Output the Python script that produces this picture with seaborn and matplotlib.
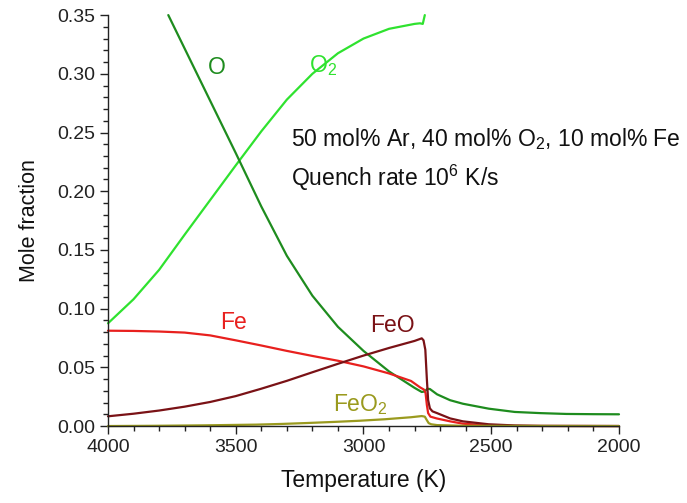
import matplotlib
matplotlib.use("Agg")
import matplotlib.pyplot as plt
from matplotlib.ticker import MultipleLocator, FormatStrFormatter
import seaborn as sns
import pandas as pd

# ---- data ----
T_O2 = [4000, 3900, 3800, 3700, 3600, 3500, 3400, 3300, 3200, 3100, 3000, 2900, 2800, 2779, 2768, 2760]
O2 = [0.0875, 0.108, 0.133, 0.163, 0.1925, 0.222, 0.251, 0.278, 0.300, 0.3175, 0.330, 0.3383, 0.3425, 0.343, 0.3425, 0.350]

T_O = [3764, 3700, 3600, 3500, 3400, 3300, 3200, 3100, 3000, 2900, 2800, 2772, 2760, 2750, 2740,
       2712, 2661, 2611, 2510, 2408, 2307, 2206, 2100, 2000]
O = [0.350, 0.3215, 0.277, 0.2325, 0.187, 0.145, 0.111, 0.0845, 0.064, 0.0465, 0.0325, 0.029, 0.0295, 0.0318, 0.0315,
     0.027, 0.022, 0.019, 0.0148, 0.012, 0.011, 0.0103, 0.0101, 0.010]

T_Fe = [4000, 3900, 3800, 3700, 3600, 3500, 3400, 3300, 3200, 3100, 3000, 2900, 2814, 2779, 2763, 2757,
        2752, 2747, 2738, 2714, 2661, 2611, 2510, 2408, 2000]
Fe = [0.0812, 0.0810, 0.0805, 0.0796, 0.0772, 0.0730, 0.0686, 0.0640, 0.0597, 0.0556, 0.0508, 0.0448, 0.0384, 0.033, 0.031, 0.028,
      0.018, 0.011, 0.008, 0.0065, 0.004, 0.002, 0.0005, 0.0001, 0.0]

T_FeO = [4000, 3900, 3800, 3700, 3600, 3500, 3400, 3300, 3200, 3100, 3000, 2900, 2800, 2772, 2765, 2758,
         2752, 2747, 2740, 2730, 2712, 2661, 2611, 2510, 2408, 2307, 2000]
FeO = [0.0083, 0.0105, 0.0132, 0.0165, 0.0205, 0.0255, 0.0318, 0.0385, 0.0458, 0.0530, 0.0600, 0.0665, 0.0725, 0.0747, 0.073, 0.065,
       0.040, 0.022, 0.015, 0.0125, 0.011, 0.0065, 0.004, 0.0015, 0.0005, 0.0001, 0.0]

T_FeO2 = [4000, 3825, 3622, 3420, 3319, 3218, 3117, 3016, 2915, 2814, 2772, 2760, 2752, 2745, 2735, 2712, 2611, 2000]
FeO2 = [0.0, 0.0002, 0.0006, 0.0012, 0.0018, 0.0026, 0.0035, 0.0045, 0.0058, 0.0075, 0.0085, 0.0080, 0.0050, 0.0025,
        0.0015, 0.0008, 0.0002, 0.0]

series = [
    ("O$_2$", T_O2, O2, "#2fe22f"),
    ("O", T_O, O, "#1e8c1e"),
    ("Fe", T_Fe, Fe, "#e8201e"),
    ("FeO", T_FeO, FeO, "#7a1216"),
    ("FeO$_2$", T_FeO2, FeO2, "#9a9a1e"),
]

sns.set_style("ticks")
plt.rcParams["font.family"] = ["Liberation Sans", "DejaVu Sans"]
plt.rcParams["mathtext.fontset"] = "custom"
plt.rcParams["mathtext.rm"] = "Liberation Sans"

fig = plt.figure(figsize=(6.87, 5.03), dpi=100)
ax = fig.add_axes([0.1572, 0.153, 0.7438, 0.817])

for name, t, v, c in series:
    df = pd.DataFrame({"T": t, "v": v})
    sns.lineplot(data=df, x="T", y="v", ax=ax, sort=False, estimator=None,
                 color=c, lw=1.6, legend=False)

ax.set_xlim(4000, 2000)
ax.set_ylim(0, 0.35)
ax.xaxis.set_major_locator(MultipleLocator(500))
ax.xaxis.set_minor_locator(MultipleLocator(100))
ax.yaxis.set_major_locator(MultipleLocator(0.05))
ax.yaxis.set_minor_locator(MultipleLocator(0.01))
ax.yaxis.set_major_formatter(FormatStrFormatter("%.2f"))
ax.tick_params(which="major", direction="out", length=6, width=1, labelsize=14, colors="#222222")
ax.tick_params(which="minor", direction="out", length=3.5, width=1, colors="#222222")
for s in ["left", "bottom"]:
    ax.spines[s].set_color("#222222")
    ax.spines[s].set_linewidth(1)
sns.despine(ax=ax)

for line in ax.lines:
    line.set_clip_on(False)

ax.set_xlabel("Temperature (K)", fontsize=16.5, color="#111111", labelpad=9)
ax.set_ylabel("Mole fraction", fontsize=15.5, color="#111111", labelpad=12)

lab = 16.5
ax.text(3574, 0.305, "O", color="#1e8c1e", fontsize=lab, ha="center", va="center")
ax.text(3213, 0.307, "O$_2$", color="#2fe22f", fontsize=lab, ha="left", va="center")
ax.text(3507, 0.0886, "Fe", color="#e8201e", fontsize=lab, ha="center", va="center")
ax.text(2888, 0.086, "FeO", color="#7a1216", fontsize=lab, ha="center", va="center")
ax.text(3119, 0.0185, "FeO$_2$", color="#9a9a1e", fontsize=lab, ha="left", va="center")

ax.text(3283, 0.2444, "50 mol% Ar, 40 mol% O$_2$, 10 mol% Fe", fontsize=16.5, color="#111111", ha="left", va="center")
ax.text(3283, 0.2117, "Quench rate 10$^6$ K/s", fontsize=16.5, color="#111111", ha="left", va="center")

fig.savefig("out.png", dpi=100)
